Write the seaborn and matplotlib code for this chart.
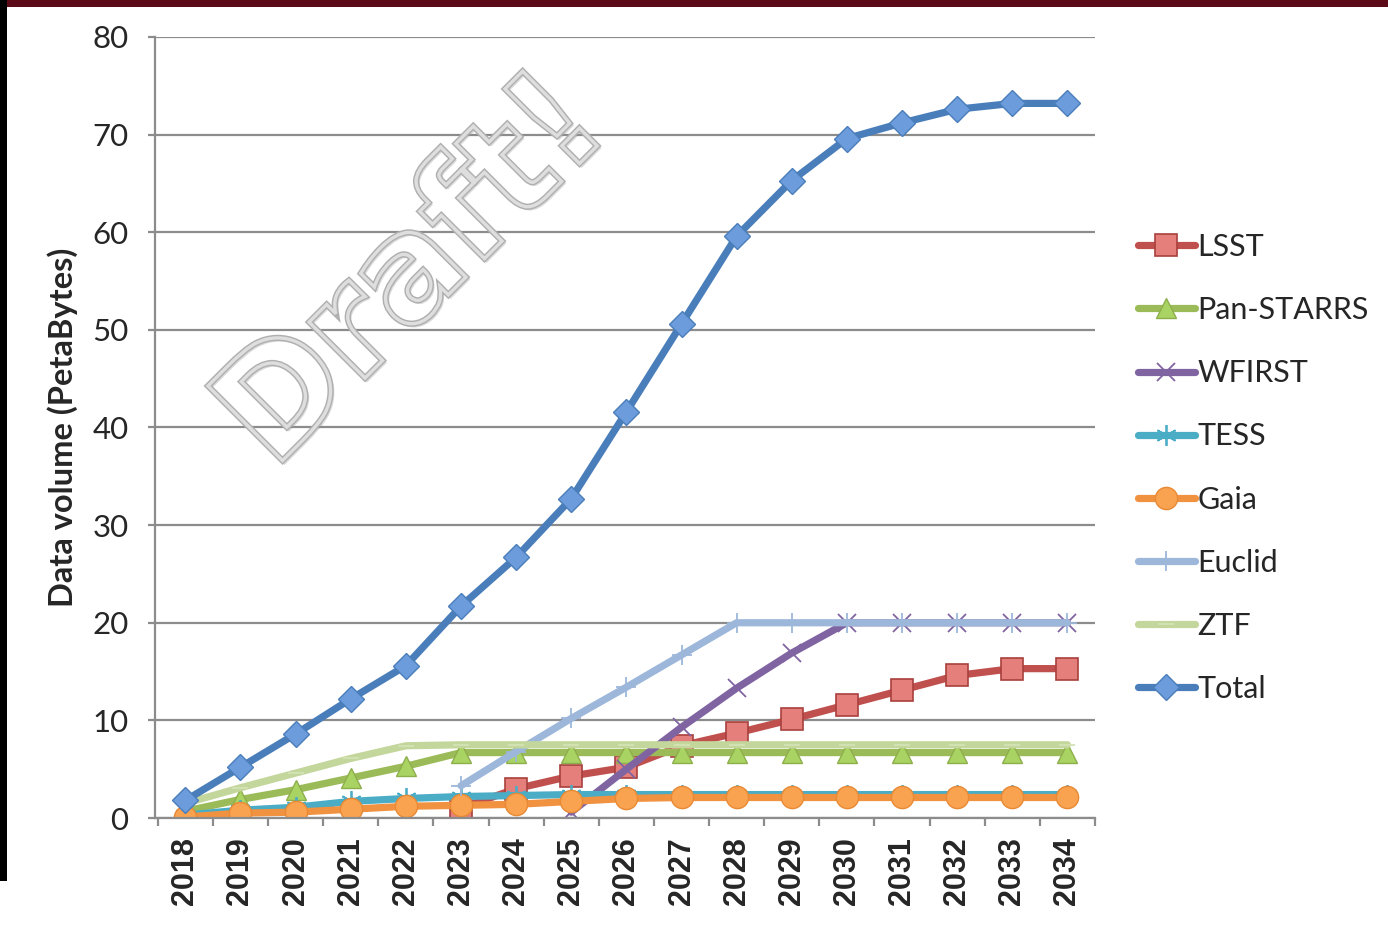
import numpy as np
import pandas as pd
import seaborn as sns
import matplotlib.pyplot as plt
import matplotlib.patheffects as pe
from matplotlib.patches import PathPatch, Rectangle
from matplotlib.textpath import TextPath
from matplotlib.font_manager import FontProperties
from matplotlib.transforms import Affine2D

# data (PetaBytes per year)
years = [str(y) for y in range(2018, 2035)]
nan = np.nan
lsst = [nan] * 5 + [1.0, 3.0, 4.3, 5.2, 7.4, 8.7, 10.1, 11.6, 13.1, 14.6, 15.3, 15.3]
pan_starrs = [0.7, 1.9, 2.9, 4.1, 5.3, 6.7] + [6.7] * 11
wfirst = [nan] * 7 + [0.6, 5.0, 9.3, 13.3, 16.9] + [20.0] * 5
tess = [0.3, 0.8, 1.1, 1.7, 2.0, 2.2, 2.3, 2.4] + [2.4] * 9
gaia = [0.1, 0.5, 0.6, 0.9, 1.2, 1.3, 1.4, 1.7, 2.0, 2.1] + [2.1] * 7
euclid = [nan] * 5 + [3.3, 6.8, 10.2, 13.4, 16.7] + [20.0] * 7
ztf = [1.5, 3.1, 4.6, 6.1, 7.4] + [7.5] * 12
total = [1.8, 5.2, 8.6, 12.2, 15.6, 21.7, 26.7, 32.7, 41.6, 50.6,
         59.6, 65.3, 69.6, 71.2, 72.6, 73.2, 73.2]

series = {
    "LSST": lsst, "Pan-STARRS": pan_starrs, "WFIRST": wfirst, "TESS": tess,
    "Gaia": gaia, "Euclid": euclid, "ZTF": ztf, "Total": total,
}

# line colour, marker, marker size, face, edge, marker edge width
styles = {
    "LSST": ("#C0504D", "s", 16, "#E57F7C", "#A8403D", 1.2),
    "Pan-STARRS": ("#9BBB59", "^", 15, "#A9D463", "#8EAE4C", 1.0),
    "WFIRST": ("#8064A2", "x", 13, "#8064A2", "#8064A2", 1.3),
    "TESS": ("#4BACC6", (6, 2, 0), 15, "#4BACC6", "#4BACC6", 1.3),
    "Gaia": ("#F0923F", "o", 16, "#F9A24F", "#E88A35", 1.0),
    "Euclid": ("#9DB7DA", "+", 15, "#9DB7DA", "#9DB7DA", 1.3),
    "ZTF": ("#C3D69B", "_", 12, "#D4E3B5", "#D4E3B5", 1.3),
    "Total": ("#4A7EBB", "D", 13, "#6C9CDB", "#4A7EBB", 1.0),
}

sns.set_style("white")
plt.rcParams["font.family"] = ["Lato", "DejaVu Sans"]

fig = plt.figure(figsize=(13.88, 9.26), dpi=100)
ax = fig.add_axes([155 / 1388, 1 - 818 / 926, 940 / 1388, 781 / 926])

xpos = np.arange(len(years))
handles = []
for name, vals in series.items():
    col, mk, ms, fc, ec, mew = styles[name]
    df = pd.DataFrame({"x": xpos, "y": vals}).dropna()
    sns.lineplot(data=df, x="x", y="y", ax=ax, color=col, lw=5.2,
                 marker=mk, markersize=ms, markerfacecolor=fc,
                 markeredgecolor=ec, markeredgewidth=mew,
                 solid_capstyle="round", estimator=None, sort=False, label=name)
    handles.append(ax.lines[-1])

ax.set_xlim(-0.55, 16.5)
ax.set_ylim(0, 80)
ax.set_yticks(range(0, 81, 10))
ax.set_xticks(xpos)
ax.set_xticklabels(years, rotation=90, fontsize=22, family="Liberation Sans",
                   fontweight="bold")
ax.set_xticks(np.arange(-0.5, 17, 1), minor=True)
ax.tick_params(axis="x", which="major", length=0, pad=14)
ax.tick_params(axis="x", which="minor", length=6, width=1.6, color="#8c8c8c",
               direction="out", bottom=True)
ax.tick_params(axis="y", length=5, width=1.6, color="#8c8c8c", direction="out",
               left=True, pad=14, labelsize=22.5)
ax.yaxis.grid(True, color="#8c8c8c", lw=1.6)
ax.set_axisbelow(True)
for s in ["top", "right"]:
    ax.spines[s].set_visible(False)
for s in ["left", "bottom"]:
    ax.spines[s].set_color("#8c8c8c")
    ax.spines[s].set_linewidth(1.6)

ax.set_xlabel("")
ax.set_ylabel("Data volume (PetaBytes)", fontsize=23.5, fontweight="bold")
ax.yaxis.set_label_coords(-0.082, 0.5)

ax.legend(handles=handles, labels=list(series.keys()), loc="center left",
          bbox_to_anchor=(1138 / 1388, 1 - 468 / 926), bbox_transform=fig.transFigure,
          frameon=False, fontsize=22, handlelength=1.85, handletextpad=0.1,
          labelspacing=1.15, borderpad=0, borderaxespad=0)

# outlined "Draft!" watermark
fp = FontProperties(family="DejaVu Sans", weight="bold")
tp = TextPath((0, 0), "Draft!", size=100, prop=fp)
bb = tp.get_extents()
tr = (Affine2D().translate(-bb.x0, -bb.y0)
      .scale(445 / bb.width / 100, 112 / bb.height / 100)
      .rotate_deg(45).translate(2.84, (926 - 462) / 100))
wm = PathPatch(tr.transform_path(tp), facecolor="none", edgecolor="#dedede", lw=2.4,
               transform=fig.dpi_scale_trans, zorder=5)
wm.set_path_effects([pe.SimpleLineShadow(offset=(1.5, -1.5), shadow_color="#999999", alpha=0.35),
                     pe.Stroke(linewidth=4.5, foreground="#b0b0b0"), pe.Normal()])
fig.add_artist(wm)

# slide edges
fig.add_artist(Rectangle((0, 1 - 7 / 926), 1, 7 / 926, transform=fig.transFigure,
                         color="#5c0a18", lw=0))
fig.add_artist(Rectangle((0, 45 / 926), 7 / 1388, 1, transform=fig.transFigure,
                         color="black", lw=0))

fig.savefig("out.png", dpi=100)
